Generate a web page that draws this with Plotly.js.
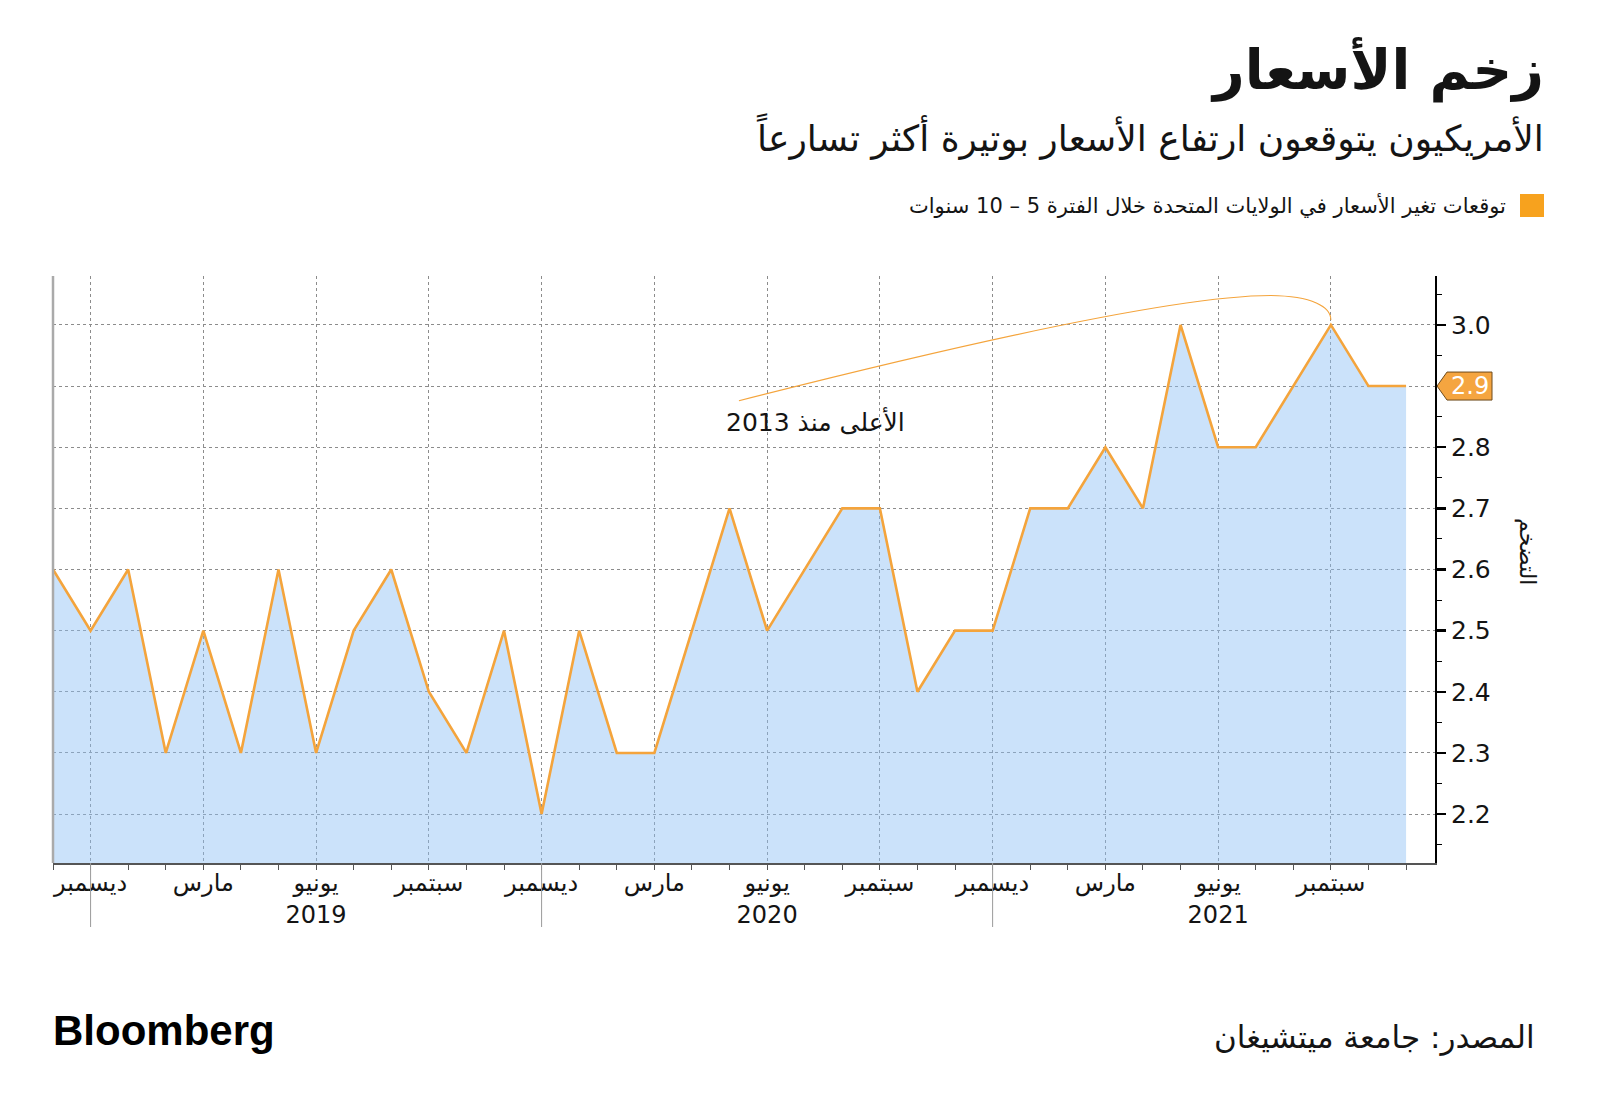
<!DOCTYPE html>
<html>
<head>
<meta charset="utf-8">
<script src="https://cdn.plot.ly/plotly-3.0.1.min.js"></script>
<style>
  html, body { margin: 0; padding: 0; background: #ffffff; }
  #chart { width: 1600px; height: 1108px; }
</style>
</head>
<body>
<div id="chart"></div>
<script>
// ---------------- DATA ----------------
const months = [
  '2018-11','2018-12',
  '2019-01','2019-02','2019-03','2019-04','2019-05','2019-06','2019-07','2019-08','2019-09','2019-10','2019-11','2019-12',
  '2020-01','2020-02','2020-03','2020-04','2020-05','2020-06','2020-07','2020-08','2020-09','2020-10','2020-11','2020-12',
  '2021-01','2021-02','2021-03','2021-04','2021-05','2021-06','2021-07','2021-08','2021-09','2021-10','2021-11'
];
const expectations = [
  2.6, 2.5,
  2.6, 2.3, 2.5, 2.3, 2.6, 2.3, 2.5, 2.6, 2.4, 2.3, 2.5, 2.2,
  2.5, 2.3, 2.3, 2.5, 2.7, 2.5, 2.6, 2.7, 2.7, 2.4, 2.5, 2.5,
  2.7, 2.7, 2.8, 2.7, 3.0, 2.8, 2.8, 2.9, 3.0, 2.9, 2.9
];
const tickMonths = ['2018-12','2019-03','2019-06','2019-09','2019-12','2020-03','2020-06','2020-09','2020-12','2021-03','2021-06','2021-09'];
const tickLabels = ['ديسمبر','مارس','يونيو<br>2019','سبتمبر','ديسمبر','مارس','يونيو<br>2020','سبتمبر','ديسمبر','مارس','يونيو<br>2021','سبتمبر'];
const yTickVals = [2.2, 2.3, 2.4, 2.5, 2.6, 2.7, 2.8, 2.9, 3.0];
const yTickText = ['2.2','2.3','2.4','2.5','2.6','2.7','2.8','','3.0'];
const latestLabel = '2.9';
const latestValue = 2.9;

const titleText = 'زخم الأسعار';
const subtitleText = 'الأمريكيون يتوقعون ارتفاع الأسعار بوتيرة أكثر تسارعاً';
const legendText = 'توقعات تغير الأسعار في الولايات المتحدة خلال الفترة 5 – 10 سنوات';
const noteText = 'الأعلى منذ 2013';
const yTitleText = 'التضخم';
const sourceText = 'المصدر: جامعة ميتشيغان';

// ---------------- LAYOUT HELPERS ----------------
const W = 1600, H = 1108;
const M = { l: 53, r: 165, t: 276, b: 245 };
const PW = W - M.l - M.r, PH = H - M.t - M.b;
const px = x => (x - M.l) / PW;            // pixel -> paper x
const py = y => (H - M.b - y) / PH;         // pixel -> paper y

const xIdx = months.map((m, i) => i);
const idxOf = m => months.indexOf(m);
const tickIdx = tickMonths.map(idxOf);
const decIdx = months.map((m, i) => m.endsWith('-12') ? i : null).filter(v => v !== null);

const ORANGE = '#f4a43c';
const TEXT = '#141414';
const FONT = 'DejaVu Sans, Noto Sans, sans-serif';

const trace = {
  x: xIdx,
  y: expectations,
  type: 'scatter',
  mode: 'lines',
  line: { color: ORANGE, width: 2.6 },
  fill: 'tozeroy',
  fillcolor: 'rgba(140,190,245,0.45)',
  hoverinfo: 'skip',
  showlegend: false
};

const shapes = [];
// left axis line (grey)
shapes.push({ type: 'line', xref: 'paper', yref: 'paper', x0: 0, x1: 0, y0: 0, y1: 1,
  line: { color: '#aaaaaa', width: 2.5 }, layer: 'above' });
// year separators at December ticks
decIdx.forEach(i => shapes.push({ type: 'line', xref: 'x', yref: 'paper', x0: i, x1: i, y0: 0, y1: py(927),
  line: { color: '#9a9a9a', width: 1 } }));
// connector curve for the note
shapes.push({ type: 'path', xref: 'x', yref: 'y',
  path: 'M 18.25 2.876 C 26.5 3.005, 30.5 3.048, 32.4 3.048 C 33.5 3.047, 34.0 3.03, 34.0 3.008',
  line: { color: ORANGE, width: 1.1 } });
// latest value pointer label
shapes.push({ type: 'path', xref: 'paper', yref: 'y', xsizemode: 'pixel', ysizemode: 'pixel',
  xanchor: 1, yanchor: latestValue,
  path: 'M 2 0 L 12 14 L 57 14 L 57 -14 L 12 -14 Z',
  fillcolor: '#f5a540', line: { color: '#6e4b1c', width: 1 }, layer: 'above' });
// legend square
shapes.push({ type: 'rect', xref: 'paper', yref: 'paper', x0: px(1520), x1: px(1544), y0: py(217), y1: py(194),
  fillcolor: '#f7a21e', line: { width: 0 } });

const annotations = [
  { text: '<b>' + titleText + '</b>', xref: 'paper', yref: 'paper', x: px(1546), y: py(70),
    xanchor: 'right', yanchor: 'middle', showarrow: false, font: { family: FONT, size: 55, color: TEXT } },
  { text: subtitleText, xref: 'paper', yref: 'paper', x: px(1546), y: py(136),
    xanchor: 'right', yanchor: 'middle', showarrow: false, font: { family: FONT, size: 36, color: TEXT } },
  { text: legendText, xref: 'paper', yref: 'paper', x: px(1508), y: py(206),
    xanchor: 'right', yanchor: 'middle', showarrow: false, font: { family: FONT, size: 21, color: TEXT } },
  { text: noteText, xref: 'x', yref: 'y', x: 20.3, y: 2.842,
    xanchor: 'center', yanchor: 'middle', showarrow: false, font: { family: FONT, size: 25, color: TEXT } },
  { text: yTitleText, xref: 'paper', yref: 'paper', x: px(1527), y: py(551), textangle: 90,
    xanchor: 'center', yanchor: 'middle', showarrow: false, font: { family: FONT, size: 22, color: TEXT } },
  { text: latestLabel, xref: 'paper', yref: 'y', x: 1, y: latestValue, xshift: 35,
    xanchor: 'center', yanchor: 'middle', showarrow: false, font: { family: FONT, size: 24, color: '#ffffff' } },
  { text: '<b>Bloomberg</b>', xref: 'paper', yref: 'paper', x: px(51), y: py(1030),
    xanchor: 'left', yanchor: 'middle', showarrow: false, font: { family: 'Liberation Sans, Arial, sans-serif', size: 42, color: '#000' } },
  { text: sourceText, xref: 'paper', yref: 'paper', x: px(1537), y: py(1037),
    xanchor: 'right', yanchor: 'middle', showarrow: false, font: { family: FONT, size: 31, color: TEXT } }
];

const layout = {
  width: W, height: H,
  margin: M,
  paper_bgcolor: '#ffffff',
  plot_bgcolor: '#ffffff',
  font: { family: FONT, color: TEXT },
  showlegend: false,
  xaxis: {
    range: [0, 36.77],
    tickmode: 'array', tickvals: tickIdx, ticktext: tickLabels,
    ticks: 'outside', ticklen: 5, tickwidth: 1, tickcolor: '#555',
    ticklabelstandoff: -7,
    tickfont: { family: FONT, size: 24, color: TEXT },
    showgrid: true, gridcolor: '#8c8c8c', gridwidth: 1, griddash: 'dot',
    minor: { tickmode: 'linear', tick0: 0, dtick: 1, ticks: 'outside', ticklen: 5, tickwidth: 1, tickcolor: '#555', showgrid: false },
    showline: true, linecolor: '#555', linewidth: 1.5,
    zeroline: false, fixedrange: true
  },
  yaxis: {
    side: 'right',
    range: [2.12, 3.08],
    tickmode: 'array', tickvals: yTickVals, ticktext: yTickText,
    ticks: 'outside', ticklen: 9, tickwidth: 2.5, tickcolor: '#000',
    tickfont: { family: FONT, size: 25, color: TEXT },
    showgrid: true, gridcolor: '#8c8c8c', gridwidth: 1, griddash: 'dot',
    minor: { tickmode: 'linear', tick0: 2.15, dtick: 0.1, ticks: 'outside', ticklen: 5, tickwidth: 1, tickcolor: '#000', showgrid: false },
    showline: true, linecolor: '#000', linewidth: 2,
    zeroline: false, fixedrange: true
  },
  shapes: shapes,
  annotations: annotations
};

Plotly.newPlot('chart', [trace], layout, { displayModeBar: false, staticPlot: true });
</script>
</body>
</html>
